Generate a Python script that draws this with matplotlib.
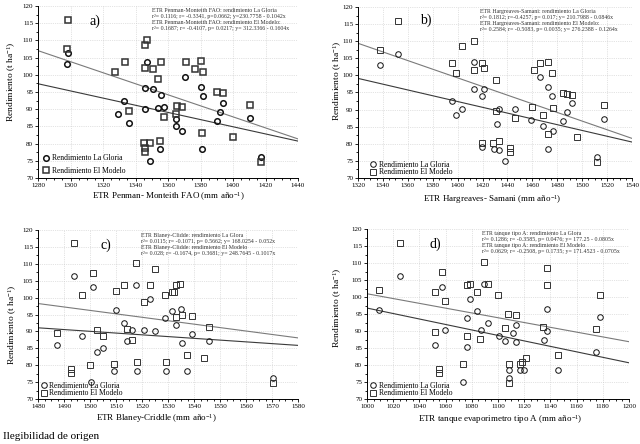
import numpy as np
import matplotlib
matplotlib.use('Agg')
import matplotlib.pyplot as plt
from matplotlib.ticker import MultipleLocator, AutoMinorLocator

plt.rcParams['font.family'] = ['Liberation Serif', 'DejaVu Serif']
plt.rcParams['mathtext.fontset'] = 'custom'
plt.rcParams['mathtext.rm'] = 'Liberation Serif'
plt.rcParams['mathtext.it'] = 'Liberation Serif:italic'

# a) Penman-Monteith FAO
gloria_x_a = [1297.7, 1298.7, 1329.0, 1333.1, 1335.7, 1345.8, 1346.0, 1347.2, 1348.9, 1350.7, 1354.0, 1355.7,
              1355.3, 1357.5, 1364.7, 1365.1, 1368.6, 1370.7, 1380.0, 1381.3, 1380.9, 1390.4, 1391.7, 1394.1,
              1410.6, 1417.4]
gloria_y_a = [103.0, 106.3, 88.5, 92.4, 86.0, 90.2, 96.3, 103.8, 75.0, 95.9, 90.3, 94.0,
              78.4, 90.5, 85.2, 87.1, 83.8, 99.5, 96.5, 93.9, 78.4, 86.7, 89.3, 91.9,
              87.3, 76.2]
modelo_x_a = [1298.0, 1298.5, 1327.5, 1333.3, 1335.9, 1345.4, 1345.8, 1346.0, 1346.0, 1347.0, 1346.0, 1348.9,
              1350.7, 1354.0, 1355.7, 1355.3, 1357.5, 1364.7, 1365.3, 1368.8, 1371.1, 1376.4, 1380.0, 1381.3,
              1380.9, 1390.4, 1394.1, 1399.9, 1410.6, 1417.4]
modelo_y_a = [107.4, 115.9, 100.7, 103.6, 89.6, 80.3, 78.8, 77.6, 108.6, 110.2, 102.1, 80.2,
              101.6, 98.7, 103.7, 80.9, 87.6, 88.5, 90.8, 90.5, 103.6, 101.6, 103.9, 100.7,
              83.0, 94.9, 94.6, 82.0, 91.2, 74.7]

# b) Hargreaves-Samani
gloria_x_b = [1337.7, 1351.9, 1395.1, 1398.6, 1403.4, 1412.8, 1413.0, 1419.3, 1419.8, 1421.2, 1429.2, 1431.3,
              1433.2, 1433.5, 1438.3, 1446.1, 1459.3, 1466.2, 1468.4, 1472.4, 1472.7, 1475.9, 1476.2, 1484.7,
              1488.2, 1492.2, 1511.6, 1517.5]
gloria_y_b = [103.0, 106.3, 92.4, 88.5, 90.2, 95.9, 103.8, 94.0, 79.0, 96.1, 78.4, 85.8,
              90.1, 78.2, 75.0, 90.3, 87.1, 99.5, 85.2, 96.5, 78.4, 93.9, 83.8, 86.7,
              89.3, 91.9, 76.2, 87.3]
modelo_x_b = [1337.7, 1351.9, 1395.1, 1398.6, 1403.4, 1412.8, 1413.0, 1419.3, 1421.2, 1419.8, 1428.7, 1433.2,
              1430.8, 1431.0, 1441.8, 1441.8, 1446.1, 1460.0, 1461.0, 1466.2, 1468.4, 1472.7, 1472.4, 1475.9,
              1476.2, 1484.7, 1488.2, 1492.2, 1496.2, 1511.6, 1517.5]
modelo_y_b = [107.4, 115.9, 103.6, 100.7, 108.6, 101.6, 110.2, 103.7, 102.1, 80.3, 80.2, 80.9,
              89.6, 98.7, 78.8, 77.6, 87.6, 90.8, 101.6, 103.6, 88.5, 83.0, 103.9, 100.7,
              90.5, 94.9, 94.6, 94.4, 82.0, 74.7, 91.2]

# c) Blaney-Criddle
gloria_x_c = [1487.3, 1493.8, 1497.0, 1500.5, 1501.2, 1502.5, 1505.0, 1509.3, 1510.0, 1512.9, 1514.1, 1516.0,
              1517.7, 1518.2, 1520.9, 1523.0, 1525.0, 1528.8, 1529.2, 1531.4, 1533.1, 1534.9, 1535.5, 1537.2,
              1539.1, 1545.9, 1570.5]
gloria_y_c = [86.0, 106.3, 88.5, 75.0, 103.0, 83.8, 85.2, 78.4, 96.3, 92.4, 87.1, 90.3,
              103.8, 78.4, 90.5, 99.5, 90.2, 93.9, 78.4, 95.9, 91.9, 96.5, 86.7, 78.4,
              89.3, 87.3, 76.2]
modelo_x_c = [1487.3, 1492.5, 1492.5, 1493.8, 1497.0, 1500.0, 1501.2, 1502.5, 1505.0, 1509.3, 1510.0, 1512.9,
              1514.1, 1516.0, 1517.7, 1518.2, 1520.9, 1523.0, 1525.0, 1528.8, 1529.2, 1531.4, 1532.4, 1532.9,
              1534.8, 1533.1, 1535.5, 1539.1, 1537.2, 1544.0, 1545.9, 1570.5]
modelo_y_c = [89.6, 78.8, 77.6, 116.2, 100.7, 80.2, 107.4, 90.5, 88.5, 80.3, 102.1, 103.6,
              90.8, 87.6, 110.2, 80.9, 98.7, 103.7, 108.6, 100.7, 80.9, 101.6, 101.6, 103.6,
              103.9, 94.4, 94.9, 94.6, 83.0, 82.0, 91.2, 74.7]

# d) tanque evaporimetro tipo A
gloria_x_d = [1008.9, 1025.2, 1051.9, 1057.3, 1059.8, 1073.3, 1076.1, 1076.1, 1078.9, 1084.0, 1087.0, 1089.6,
              1092.1, 1100.5, 1105.6, 1108.6, 1108.6, 1111.1, 1113.6, 1114.1, 1116.6, 1119.7, 1134.9, 1137.5,
              1137.5, 1145.8, 1174.8, 1177.9]
gloria_y_d = [96.3, 106.3, 86.0, 103.0, 90.2, 75.0, 93.9, 85.2, 99.5, 95.9, 90.3, 103.8,
              92.4, 88.5, 87.1, 78.4, 76.2, 89.3, 91.9, 86.7, 78.4, 78.4, 87.3, 96.5,
              90.0, 78.4, 83.8, 94.0]
modelo_x_d = [1008.9, 1025.2, 1051.9, 1051.9, 1054.7, 1054.7, 1057.3, 1059.8, 1073.3, 1076.1, 1078.9, 1076.1,
              1084.0, 1086.6, 1089.6, 1092.1, 1099.7, 1105.6, 1107.3, 1113.6, 1108.6, 1108.6, 1116.6, 1118.6,
              1121.6, 1134.5, 1137.5, 1137.5, 1145.8, 1174.8, 1177.9]
modelo_y_d = [102.1, 116.0, 101.6, 89.6, 78.8, 77.6, 107.4, 98.7, 80.3, 103.6, 103.7, 88.5,
              101.6, 87.6, 110.2, 103.9, 100.7, 90.8, 94.9, 94.6, 80.2, 74.7, 80.3, 80.9,
              82.0, 91.2, 108.6, 103.6, 83.0, 90.5, 100.7]

# regression lines (intercept, slope) La Gloria / El Modelo
gloria_fit = [(230.7758, -0.1042), (210.7988, -0.0846), (168.0254, -0.052), (177.25, -0.0805)]
modelo_fit = [(312.3366, -0.1604), (276.2388, -0.1264), (248.7645, -0.1017), (171.4523, -0.0705)]

x_ranges = [(1280, 1440, 20), (1320, 1540, 20), (1480, 1580, 10), (1000, 1200, 20)]
panel_labels = ['a)', 'b)', 'c)', 'd)']
x_labels = ['ETR Penman- Monteith FAO (mm año$^{-1}$)',
            'ETR Hargreaves- Samani (mm año$^{-1}$)',
            'ETR Blaney-Criddle (mm año$^{-1}$)',
            'ETR tanque evaporimetro tipo A (mm año$^{-1}$)']
stats_texts = [
    'ETR Penman-Monteith FAO: rendimiento La Gloria\n'
    'r²= 0.1116; r= -0.3341, p=0.0662; y=230.7758 - 0.1042x\n'
    'ETR Penman-Monteith FAO: rendimiento El Modelo:\n'
    'r²= 0.1687; r= -0.4107, p= 0.0217; y= 312.3366 - 0.1604x',
    'ETR Hargreaves-Samani: rendimiento La Gloria\n'
    'r²= 0.1812; r=-0.4257, p= 0.017; y= 210.7988 - 0.0846x\n'
    'ETR Hargreaves-Samani: rendimiento El Modelo:\n'
    'r²= 0.2584; r= -0.5083, p= 0.0035; y= 276.2388 - 0.1264x',
    'ETR Blaney-Clidde: rendimiento La Glora\n'
    'r²= 0.0115; r= -0.1071, p= 0.5662; y= 168.0254 - 0.052x\n'
    'ETR Blaney-Clidde: rendimiento El Modelo\n'
    'r²= 0.028; r= -0.1674, p= 0.3681; y= 248.7645 - 0.1017x',
    'ETR tanque tipo A: rendimiento La Glora\n'
    'r²= 0.1286; r= -0.3585, p= 0.0476; y= 177.25 - 0.0805x\n'
    'ETR tanque tipo A: rendimiento El Modelo\n'
    'r²= 0.0629; r= -0.2508, p= 0.1735; y= 171.4523 - 0.0705x',
]

# layout in pixels of the reference (left, top, right, bottom)
boxes = [(38, 6, 298, 178), (358, 7, 632, 178), (38, 230, 298, 399), (367, 229, 629, 399)]
label_pos = [(0.20, 0.95), (0.225, 0.96), (0.24, 0.95), (0.24, 0.95)]
stats_pos = [(0.438, 0.99), (0.445, 0.99), (0.396, 0.985), (0.439, 0.99)]
ylab_pos = [(-0.10, 0.56), (-0.075, 0.567), (-0.097, 0.44), (-0.11, 0.535)]
xlab_pos = [(0.50, -0.108), (0.49, -0.128), (0.457, -0.118), (0.51, -0.118)]
leg_pos = [(0.02, 0.02), (0.045, 0.01), (0.01, 0.01), (0.012, 0.01)]
leg_space = [0.55, -0.08, -0.08, -0.08]

W, H = 640, 444
fig = plt.figure(figsize=(W / 100, H / 100), dpi=100)

data = [(gloria_x_a, gloria_y_a, modelo_x_a, modelo_y_a),
        (gloria_x_b, gloria_y_b, modelo_x_b, modelo_y_b),
        (gloria_x_c, gloria_y_c, modelo_x_c, modelo_y_c),
        (gloria_x_d, gloria_y_d, modelo_x_d, modelo_y_d)]

for i in range(4):
    l, t, r, b = boxes[i]
    ax = fig.add_axes([l / W, 1 - b / H, (r - l) / W, (b - t) / H])
    gx, gy, mx, my = data[i]
    x0, x1, step = x_ranges[i]
    lw = 1.1 if i == 0 else 0.7

    xx = np.array([x0, x1])
    a0, a1 = modelo_fit[i]
    ax.plot(xx, a0 + a1 * xx, color='#7a7a7a', lw=0.8, zorder=2)
    a0, a1 = gloria_fit[i]
    ax.plot(xx, a0 + a1 * xx, color='#3a3a3a', lw=0.8, zorder=2)

    ax.plot(gx, gy, 'o', ms=4.0, mfc='none', mec='#111111', mew=lw, ls='none',
            label='Rendimiento La Gloria', zorder=3)
    ax.plot(mx, my, 's', ms=4.0, mfc='none', mec='#333333', mew=lw, ls='none',
            label='Rendimiento El Modelo', zorder=3)

    ax.set_xlim(x0, x1)
    ax.set_ylim(70, 120)
    ax.xaxis.set_major_locator(MultipleLocator(step))
    ax.yaxis.set_major_locator(MultipleLocator(5))
    ax.xaxis.set_minor_locator(AutoMinorLocator(4))
    ax.yaxis.set_minor_locator(AutoMinorLocator(2))
    ax.tick_params(which='both', direction='out', labelsize=5, width=0.6, pad=1.5)
    ax.tick_params(which='major', length=2)
    ax.tick_params(which='minor', length=1.2)
    ax.grid(True, which='major', linestyle=':', color='#c8c8c8', linewidth=0.5)
    for s in ['top', 'right']:
        ax.spines[s].set_visible(False)
    for s in ['left', 'bottom']:
        ax.spines[s].set_linewidth(0.7)

    ax.set_ylabel('Rendimiento (t ha$^{-1}$)', fontsize=6.8, va='center')
    ax.yaxis.set_label_coords(*ylab_pos[i])
    ax.set_xlabel(x_labels[i], fontsize=6.5, va='center')
    ax.xaxis.set_label_coords(*xlab_pos[i])

    ax.text(label_pos[i][0], label_pos[i][1], panel_labels[i], transform=ax.transAxes,
            fontsize=10, ha='left', va='top')
    ax.text(stats_pos[i][0], stats_pos[i][1], stats_texts[i], transform=ax.transAxes,
            fontsize=4.2, ha='left', va='top', linespacing=1.25, color='#333333')

    ax.legend(loc='lower left', bbox_to_anchor=leg_pos[i], frameon=False, fontsize=5.5,
              handlelength=0.8, handletextpad=0.3, labelspacing=leg_space[i], borderpad=0,
              borderaxespad=0)

fig.text(3 / W, 1 - 436 / H, 'Ilegibilidad de origen', fontsize=8, ha='left', va='center')

fig.savefig('out.png', dpi=100)
